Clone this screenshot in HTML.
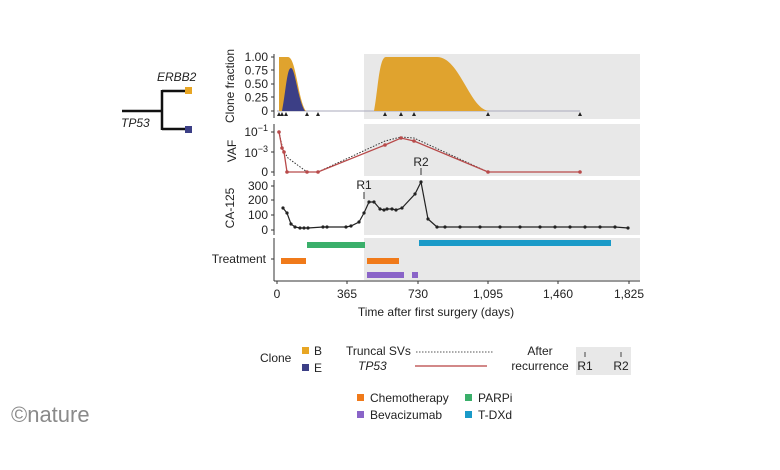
<!DOCTYPE html>
<html><head><style>body{margin:0;background:#fff}svg{display:block}text{font-family:"Liberation Sans",Arial,sans-serif;fill:#222}</style></head><body>
<svg width="780" height="470" viewBox="0 0 780 470">
<rect x="364" y="54" width="276" height="65" fill="#e8e8e8"/>
<rect x="364" y="124" width="276" height="52" fill="#e8e8e8"/>
<rect x="364" y="180" width="276" height="55" fill="#e8e8e8"/>
<rect x="364" y="238" width="276" height="42" fill="#e8e8e8"/>
<g stroke="#333" stroke-width="1" fill="none">
<line x1="274" y1="54" x2="274" y2="118"/><line x1="274" y1="124" x2="274" y2="176"/>
<line x1="274" y1="180" x2="274" y2="235"/><line x1="274" y1="238" x2="274" y2="281"/>
<line x1="274" y1="281" x2="640" y2="281"/>
<path d="M271 57h3M271 70h3M271 84h3M271 97h3M271 111h3M271 132h3M271 152h3M271 172h3M271 186h3M271 200h3M271 215h3M271 230h3M271 259h3"/>
<path d="M277 281v3M347 281v3M418 281v3M488 281v3M558 281v3M629 281v3"/>
</g>
<g font-size="12" text-anchor="end">
<text x="268" y="61">1.00</text><text x="268" y="74.5">0.75</text><text x="268" y="88">0.50</text><text x="268" y="101.5">0.25</text><text x="268" y="115">0</text>
<text x="268" y="136">10<tspan font-size="9" dy="-5">−1</tspan></text><text x="268" y="157">10<tspan font-size="9" dy="-5">−3</tspan></text><text x="268" y="176">0</text>
<text x="268" y="190">300</text><text x="268" y="204">200</text><text x="268" y="219">100</text><text x="268" y="234">0</text>
<text x="266" y="263">Treatment</text>
</g>
<g font-size="12" text-anchor="middle">
<text x="277" y="298">0</text><text x="347" y="298">365</text><text x="418" y="298">730</text><text x="488" y="298">1,095</text><text x="558" y="298">1,460</text><text x="629" y="298">1,825</text>
<text x="436" y="316">Time after first surgery (days)</text>
<text transform="translate(234,86) rotate(-90)">Clone fraction</text>
<text transform="translate(236,151) rotate(-90)">VAF</text>
<text transform="translate(234,208) rotate(-90)">CA-125</text>
<text x="364" y="189">R1</text><text x="421" y="166">R2</text>
</g>
<path d="M364 192v7M421 168v7" stroke="#333"/>
<line x1="277" y1="111" x2="580" y2="111" stroke="#aab" stroke-width="1"/>
<path d="M279 111L279 57L288 57C296 57 298 100 306 111Z" fill="#e0a32e"/>
<path d="M282 111C286 90 287 68 291 68C295 68 298 100 305 111Z" fill="#3c3f86"/>
<path d="M374 111C378 90 379 57 386 57L437 57C460 57 470 111 490 111Z" fill="#e0a32e"/>
<g fill="#222"><path d="M277 116l2-4 2 4zM280 116l2-4 2 4zM284 116l2-4 2 4zM305 116l2-4 2 4zM316 116l2-4 2 4zM383 116l2-4 2 4zM399 116l2-4 2 4zM412 116l2-4 2 4zM486 116l2-4 2 4zM578 116l2-4 2 4z"/></g>
<polyline points="279,132 283,150 288,158 307,172 318,172 385,141 401,137 414,138 488,172 580,172" fill="none" stroke="#333" stroke-dasharray="1.5,1.5"/>
<polyline points="279,132 282,148 284,152 287,172 307,172 318,172 385,145 401,138 414,141 488,172 580,172" fill="none" stroke="#b84a4a" stroke-width="1.3"/>
<g fill="#b84a4a"><circle cx="279" cy="132" r="1.8"/><circle cx="282" cy="148" r="1.8"/><circle cx="284" cy="152" r="1.8"/><circle cx="287" cy="172" r="1.8"/><circle cx="307" cy="172" r="1.8"/><circle cx="318" cy="172" r="1.8"/><circle cx="385" cy="145" r="1.8"/><circle cx="401" cy="138" r="1.8"/><circle cx="414" cy="141" r="1.8"/><circle cx="488" cy="172" r="1.8"/><circle cx="580" cy="172" r="1.8"/></g>
<polyline points="283,208 287,213 291,224 295,227 300,228 304,228 308,228 323,227 327,227 346,227 351,226 359,222 364,213 369,202 374,202 380,209 384,210 387,209 392,209 396,210 402,208 415,194 421,182 428,219 437,227 445,227 460,227 480,227 500,227 520,227 540,227 555,227 570,227 585,227 600,227 615,227 628,228" fill="none" stroke="#222" stroke-width="1.2"/>
<g fill="#222"><circle cx="283" cy="208" r="1.6"/><circle cx="287" cy="213" r="1.6"/><circle cx="291" cy="224" r="1.6"/><circle cx="295" cy="227" r="1.6"/><circle cx="300" cy="228" r="1.6"/><circle cx="304" cy="228" r="1.6"/><circle cx="308" cy="228" r="1.6"/><circle cx="323" cy="227" r="1.6"/><circle cx="327" cy="227" r="1.6"/><circle cx="346" cy="227" r="1.6"/><circle cx="351" cy="226" r="1.6"/><circle cx="359" cy="222" r="1.6"/><circle cx="364" cy="213" r="1.6"/><circle cx="369" cy="202" r="1.6"/><circle cx="374" cy="202" r="1.6"/><circle cx="380" cy="209" r="1.6"/><circle cx="384" cy="210" r="1.6"/><circle cx="387" cy="209" r="1.6"/><circle cx="392" cy="209" r="1.6"/><circle cx="396" cy="210" r="1.6"/><circle cx="402" cy="208" r="1.6"/><circle cx="415" cy="194" r="1.6"/><circle cx="421" cy="182" r="1.6"/><circle cx="428" cy="219" r="1.6"/><circle cx="437" cy="227" r="1.6"/><circle cx="445" cy="227" r="1.6"/><circle cx="460" cy="227" r="1.6"/><circle cx="480" cy="227" r="1.6"/><circle cx="500" cy="227" r="1.6"/><circle cx="520" cy="227" r="1.6"/><circle cx="540" cy="227" r="1.6"/><circle cx="555" cy="227" r="1.6"/><circle cx="570" cy="227" r="1.6"/><circle cx="585" cy="227" r="1.6"/><circle cx="600" cy="227" r="1.6"/><circle cx="615" cy="227" r="1.6"/><circle cx="628" cy="228" r="1.6"/></g>
<rect x="307" y="242" width="58" height="6" fill="#3aaf6a"/>
<rect x="419" y="240" width="192" height="6" fill="#1a9ac8"/>
<rect x="281" y="258" width="25" height="6" fill="#f07a1a"/>
<rect x="367" y="258" width="32" height="6" fill="#f07a1a"/>
<rect x="367" y="272" width="37" height="6" fill="#8a64c8"/>
<rect x="412" y="272" width="6" height="6" fill="#8a64c8"/>
<g stroke="#111" stroke-width="2.5" fill="none"><path d="M122 111H162M162 90V130M162 91H186M162 129H186"/></g>
<rect x="185" y="87" width="7" height="7" fill="#e8a624"/><rect x="185" y="126" width="7" height="7" fill="#3c3f86"/>
<text x="157" y="81" font-size="12" font-style="italic">ERBB2</text>
<text x="121" y="127" font-size="12" font-style="italic">TP53</text>
<text x="260" y="362" font-size="12">Clone</text>
<rect x="302" y="347" width="7" height="7" fill="#e8a624"/><text x="314" y="355" font-size="12">B</text>
<rect x="302" y="364" width="7" height="7" fill="#3c3f86"/><text x="314" y="372" font-size="12">E</text>
<text x="346" y="355" font-size="12">Truncal SVs</text>
<text x="358" y="370" font-size="12" font-style="italic">TP53</text>
<line x1="416" y1="352" x2="494" y2="352" stroke="#555" stroke-dasharray="1.5,1.5"/>
<line x1="415" y1="366" x2="487" y2="366" stroke="#c46060" stroke-width="1.5"/>
<text x="540" y="355" font-size="12" text-anchor="middle">After</text>
<text x="540" y="370" font-size="12" text-anchor="middle">recurrence</text>
<rect x="576" y="347" width="55" height="28" fill="#e8e8e8"/>
<path d="M585 352v5M621 352v5" stroke="#444"/>
<text x="585" y="370" font-size="12" text-anchor="middle">R1</text><text x="621" y="370" font-size="12" text-anchor="middle">R2</text>
<rect x="357" y="394" width="7" height="7" fill="#f07a1a"/><text x="370" y="402" font-size="12">Chemotherapy</text>
<rect x="357" y="411" width="7" height="7" fill="#8a64c8"/><text x="370" y="419" font-size="12">Bevacizumab</text>
<rect x="465" y="394" width="7" height="7" fill="#3aaf6a"/><text x="478" y="402" font-size="12">PARPi</text>
<rect x="465" y="411" width="7" height="7" fill="#1a9ac8"/><text x="478" y="419" font-size="12">T-DXd</text>
<text x="11" y="422" font-size="22" style="fill:#8a8a8a" font-family="Liberation Serif">©nature</text>
</svg>
</body></html>
